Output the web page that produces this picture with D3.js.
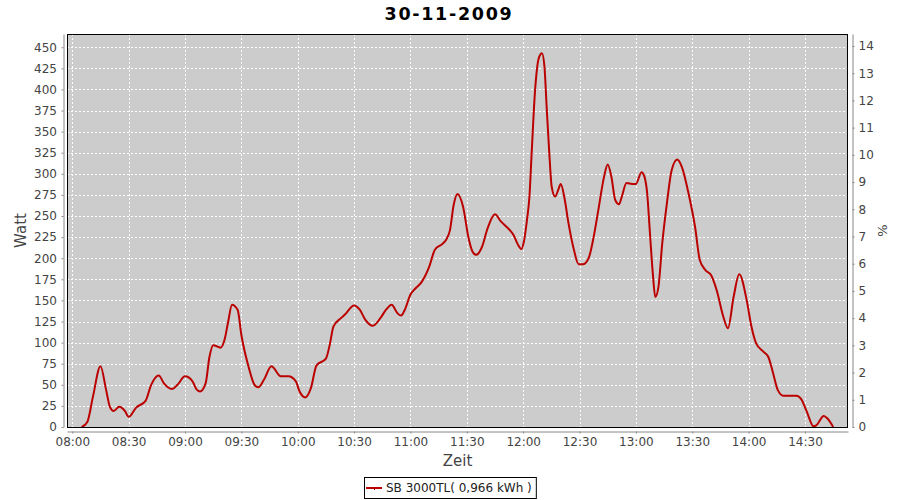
<!DOCTYPE html>
<html><head><meta charset="utf-8">
<script src="https://cdn.jsdelivr.net/npm/d3@7"></script>
<style>body{margin:0;background:#fff} text{font-family:"DejaVu Sans",sans-serif}</style>
</head><body><svg id="c" width="900" height="500"></svg>
<script>
const chartTitle = "30-11-2009";
const day = "2009-11-30";
const times = ["08:05:00","08:08:00","08:11:00","08:15:00","08:18:00","08:20:00","08:22:00","08:25:00","08:28:00","08:30:00",
"08:34:00","08:39:00","08:42:00","08:46:00","08:49:00","08:53:00","08:56:00","09:00:00","09:04:00","09:06:00",
"09:08:00","09:11:00","09:13:00","09:15:00","09:19:00","09:21:00","09:23:00","09:25:00","09:28:00","09:30:00",
"09:34:00","09:37:00","09:39:00","09:42:00","09:46:00","09:51:00","09:55:00","09:59:00","10:01:00","10:04:00",
"10:07:00","10:10:00","10:15:00","10:17:00","10:19:00","10:23:00","10:25:00","10:30:00","10:33:00","10:36:00",
"10:40:00","10:44:00","10:47:00","10:50:00","10:53:00","10:55:00","10:57:00","11:00:00","11:03:00","11:06:00",
"11:10:00","11:13:00","11:17:00","11:19:00","11:21:00","11:23:00","11:25:00","11:28:00","11:31:00","11:33:00",
"11:35:00","11:38:00","11:41:00","11:45:00","11:48:00","11:53:00","11:55:00","11:57:00","11:59:00","12:00:30",
"12:02:00","12:03:20","12:04:30","12:06:20","12:08:25","12:10:00","12:11:20","12:12:30","12:13:55","12:15:10",
"12:17:00","12:18:40","12:20:00","12:22:00","12:24:00","12:27:00","12:29:30","12:32:00","12:35:00","12:37:30",
"12:40:00","12:43:00","12:45:00","12:47:00","12:49:00","12:51:00","12:52:30","12:55:00","12:58:00","13:00:00",
"13:03:00","13:04:30","13:06:00","13:07:30","13:09:00","13:10:20","13:12:00","13:14:00","13:16:30","13:19:00",
"13:22:00","13:24:30","13:28:00","13:31:30","13:34:00","13:37:00","13:40:00","13:43:00","13:46:30","13:49:00",
"13:52:00","13:55:00","13:59:00","14:01:30","14:04:00","14:08:00","14:10:30","14:13:00","14:15:30","14:18:30",
"14:25:30","14:28:00","14:31:00","14:34:30","14:36:00","14:40:00","14:42:00","14:45:00"];
const watts = [0,6,36,72,44,24,19,24,19,12,
23,31,50,61,51,45,50,60,54,45,
42,52,83,97,94,103,125,145,139,109,
70,50,47,56,72,60,60,54,42,35,
46,73,81,97,119,129,133,144,139,127,
120,129,139,145,135,132,139,157,165,172,
190,210,217,222,233,263,276,261,223,208,
204,213,235,252,244,233,227,217,211,221,
245,273,324,399,438,443,427,379,324,285,
273,281,288,271,243,210,193,193,201,225,
257,296,311,296,269,264,273,289,288,288,
302,297,277,229,182,154,166,217,265,304,
317,308,277,237,198,186,180,162,131,117,
154,181,150,119,99,89,83,64,44,37,
37,33,18,1,2,13,10,0];
const leftTicks = d3.range(0, 451, 25);
const rightTicks = d3.range(0, 15, 1);
const xDomain = ["07:57:11", "14:52:54"];
const yMax = 465.7;
const yRightMax = 14.44;
const seriesName = "SB 3000TL( 0,966 kWh )";
const xLabel = "Zeit", yLabel = "Watt", yRightLabel = "%";

const parse = d3.timeParse("%Y-%m-%d %H:%M:%S");
const data = times.map((t, i) => ({t: parse(day + " " + t), v: watts[i]}));

const L = 67, R = 848, T = 34, B = 427;
const svg = d3.select("#c");
const x = d3.scaleTime().domain(xDomain.map(t => parse(day + " " + t))).range([L, R]);
const y = d3.scaleLinear().domain([0, yMax]).range([B, T]);
const yR = d3.scaleLinear().domain([0, yRightMax]).range([B, T]);
const xTicks = x.ticks(d3.timeMinute.every(30));

svg.append("rect").attr("x", L).attr("y", T).attr("width", R - L).attr("height", B - T).attr("fill", "#cccccc");

const grid = svg.append("g").attr("stroke", "#fff").attr("stroke-width", 1).attr("stroke-dasharray", "2,2");
grid.selectAll("line.h").data(leftTicks.filter(d => d > 0)).join("line")
  .attr("x1", L).attr("x2", R).attr("y1", d => Math.round(y(d)) + 0.5).attr("y2", d => Math.round(y(d)) + 0.5);
grid.selectAll("line.v").data(xTicks).join("line")
  .attr("y1", T).attr("y2", B).attr("x1", d => Math.round(x(d)) + 0.5).attr("x2", d => Math.round(x(d)) + 0.5);

svg.append("path").datum(data)
  .attr("fill", "none").attr("stroke", "#bb0000").attr("stroke-width", 2).attr("stroke-linejoin", "round")
  .attr("d", d3.line().x(d => x(d.t)).y(d => y(d.v)).curve(d3.curveMonotoneX));

svg.append("rect").attr("x", L + 0.5).attr("y", T + 0.5).attr("width", R - L - 1).attr("height", B - T)
  .attr("fill", "none").attr("stroke", "#000").attr("stroke-width", 1);

function styleAxis(g) {
  g.selectAll("path,line").attr("stroke", "#888");
  g.selectAll("text").attr("fill", "#444").attr("font-size", 12).attr("font-family", "DejaVu Sans");
}
svg.append("g").attr("transform", "translate(63.5,0)")
  .call(d3.axisLeft(y).tickValues(leftTicks).tickSize(2).tickSizeOuter(0).tickPadding(4.5))
  .call(styleAxis);
svg.append("g").attr("transform", "translate(852.5,0)")
  .call(d3.axisRight(yR).tickValues(rightTicks).tickSize(2).tickSizeOuter(0).tickPadding(4).tickFormat(d3.format("d")))
  .call(styleAxis);
svg.append("g").attr("transform", "translate(0,431.5)")
  .call(d3.axisBottom(x).tickValues(xTicks).tickSize(2).tickSizeOuter(0).tickPadding(4).tickFormat(d3.timeFormat("%H:%M")))
  .call(styleAxis);

svg.append("text").attr("x", 449).attr("y", 19.5).attr("text-anchor", "middle")
  .attr("font-size", 17.5).attr("letter-spacing", 1.7).attr("font-weight", "bold").attr("fill", "#000").text(chartTitle);
svg.append("text").attr("transform", "translate(26,230.5) rotate(-90)").attr("text-anchor", "middle")
  .attr("font-size", 15).attr("fill", "#444").text(yLabel);
svg.append("text").attr("transform", "translate(887,230.5) rotate(-90)").attr("text-anchor", "middle")
  .attr("font-size", 13).attr("fill", "#444").text(yRightLabel);
svg.append("text").attr("x", (L + R) / 2).attr("y", 466).attr("text-anchor", "middle")
  .attr("font-size", 15).attr("fill", "#444").text(xLabel);

const lg = svg.append("g");
const lt = lg.append("text").attr("y", 492).attr("font-size", 12).attr("fill", "#222").text(seriesName);
const tw = lt.node().getComputedTextLength();
const bw = tw + 26, bx = Math.round(450 - bw / 2);
lt.attr("x", bx + 22);
lg.insert("rect", "text").attr("x", bx + 0.5).attr("y", 477.5).attr("width", bw).attr("height", 21)
  .attr("fill", "#fff").attr("stroke", "#000");
lg.append("line").attr("x1", bx + 2).attr("x2", bx + 18).attr("y1", 488).attr("y2", 488)
  .attr("stroke", "#bb0000").attr("stroke-width", 2);
lg.append("line").attr("x1", bx + 10.5).attr("x2", bx + 10.5).attr("y1", 488).attr("y2", 490)
  .attr("stroke", "#bb0000").attr("stroke-width", 1);
</script></body></html>
